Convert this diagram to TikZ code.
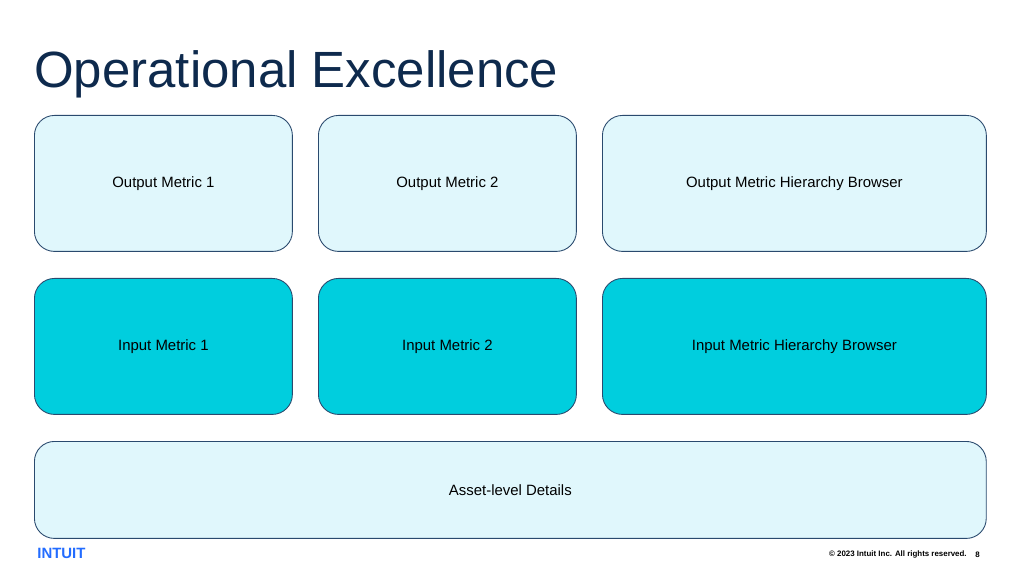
\documentclass[tikz,border=0pt]{standalone}
\usepackage{fontspec}
\setmainfont{Liberation Sans}
\definecolor{navy}{HTML}{0E2A4D}
\definecolor{lightcyan}{HTML}{E0F7FC}
\definecolor{tealbox}{HTML}{00CEDE}
\definecolor{edgeblue}{HTML}{2A4A6E}
\definecolor{intuitblue}{HTML}{236CFF}
\begin{document}
\begin{tikzpicture}[x=0.02cm,y=-0.02cm,
    box/.style={draw=edgeblue,line width=0.5pt,rounded corners=0.4cm,
        anchor=north west,inner sep=0pt,font=\fontsize{8.5}{10}\selectfont},
    output/.style={box,fill=lightcyan},
    input/.style={box,fill=tealbox}]
  \useasboundingbox (0,0) rectangle (1024,577);
  \node[anchor=base west,text=navy,font=\fontsize{29}{34}\selectfont,inner sep=0pt] (title) at (34,88) {Operational Excellence};
  % top row
  \node[output,minimum width=5.16cm,minimum height=2.72cm] (out1) at (34,115) {Output Metric 1};
  \node[output,minimum width=5.16cm,minimum height=2.72cm] (out2) at (318,115) {Output Metric 2};
  \node[output,minimum width=7.68cm,minimum height=2.72cm] (outH) at (602,115) {Output Metric Hierarchy Browser};
  % middle row
  \node[input,minimum width=5.16cm,minimum height=2.72cm] (in1) at (34,278) {Input Metric 1};
  \node[input,minimum width=5.16cm,minimum height=2.72cm] (in2) at (318,278) {Input Metric 2};
  \node[input,minimum width=7.68cm,minimum height=2.72cm] (inH) at (602,278) {Input Metric Hierarchy Browser};
  % bottom row
  \node[output,minimum width=19.04cm,minimum height=1.94cm] (asset) at (34,441) {Asset-level Details};
  % footer
  \node[anchor=west,text=intuitblue,font=\fontsize{8.5}{10}\selectfont\bfseries,inner sep=0pt] (logo) at (37,553) {INTUIT};
  \node[anchor=east,font=\fontsize{4.5}{5}\selectfont\bfseries,inner sep=0pt] (copy) at (967,554) {\textcopyright{} 2023 Intuit Inc. All rights reserved.};
  \node[anchor=east,font=\fontsize{4.5}{5}\selectfont\bfseries,inner sep=0pt] (page) at (980,555) {8};
\end{tikzpicture}
\end{document}
